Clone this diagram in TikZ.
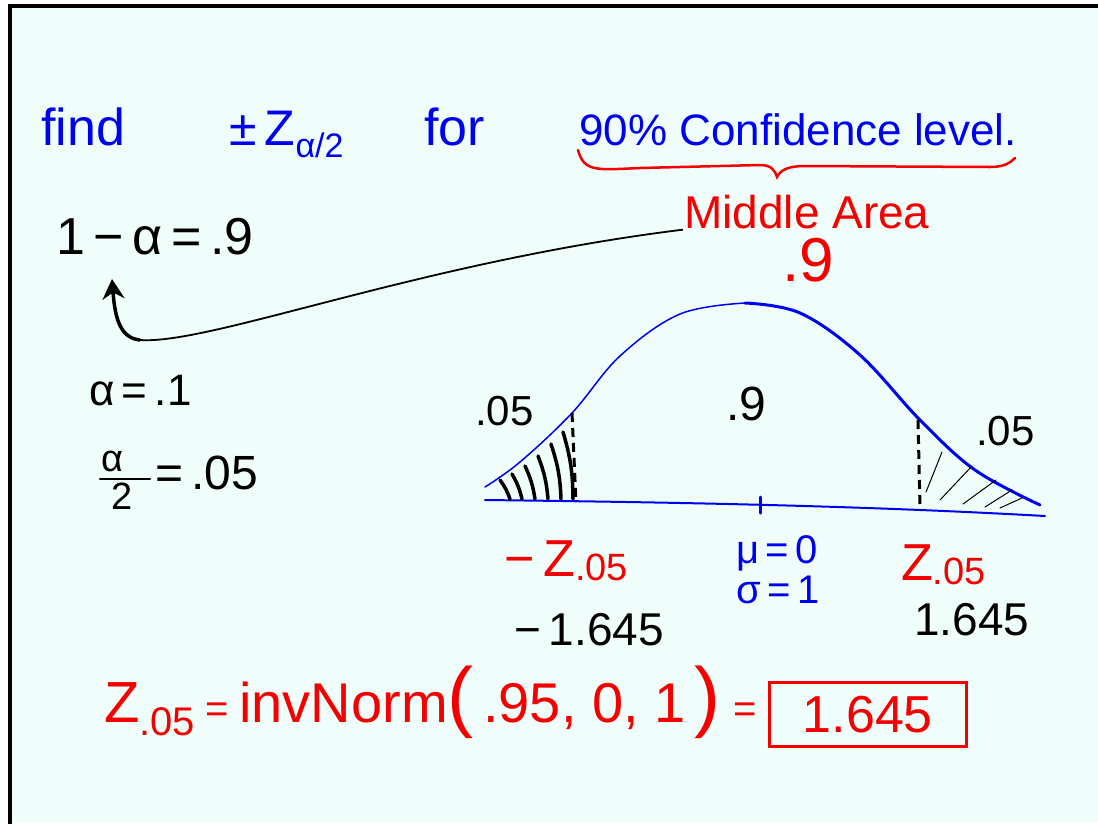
\documentclass[tikz,border=0pt]{standalone}
\usepackage{fontspec}
\setmainfont{Liberation Sans}
\usetikzlibrary{positioning, arrows.meta, calc}
\definecolor{boardbg}{HTML}{EFFEFA}
\definecolor{penblue}{HTML}{0000F0}
\definecolor{penred}{HTML}{F50000}
\newcommand\pen[1]{\fontsize{#1}{#1}\selectfont}

\begin{document}
\begin{tikzpicture}[x=1pt, y=-1pt,
  txt/.style={inner sep=1pt, anchor=base west},
  curve/.style={draw=penblue, line cap=round},
  hatchthick/.style={line width=3.5pt, line cap=round},
  hatchthin/.style={line width=1pt, line cap=round},
  cutline/.style={line width=3pt, dash pattern=on 9pt off 6pt}]
  \useasboundingbox (0,0) rectangle (1098,823);
  \fill[white] (0,0) rectangle (1098,823);
  \fill[boardbg] (10,6) rectangle (1098,823);
  \draw[line width=3.5pt] (10,830) -- (10,6) -- (1105,6);

  % title line
  \node[txt, penblue, font=\pen{52}] (find) at (40,145) {find};
  \node[txt, penblue, font=\pen{50}] (pmz) at (228,145) {±\,Z\raisebox{-12pt}{\pen{34}α/2}};
  \node[txt, penblue, font=\pen{52}] (for) at (423,145) {for};
  \node[txt, penblue, font=\pen{44}] (conf) at (578,145) {90\% Confidence level.};
  \draw[penred, line width=2.5pt, line cap=round]
    (578,150) .. controls (584,172) and (596,170) .. (640,168) -- (760,165)
    .. controls (771,165) and (775,170) .. (777,177)
    .. controls (781,169) and (790,166) .. (805,166) -- (990,167)
    .. controls (1004,167) and (1010,163) .. (1015,158);

  % middle area
  \node[txt, penred, font=\pen{46}] (mid) at (683,228) {Middle Area};
  \node[txt, penred, font=\pen{62}] (midval) at (781,281) {.9};

  % left column
  \node[txt, font=\pen{52}] (onealpha) at (55,254) {1\,−\,α\,=\,.9};
  \coordinate (tip) at (112,279);
  \draw[line width=1.8pt] (mid.south west) .. controls (420,262) and (210,345) .. (140,340);
  \draw[line width=3.5pt, -{Stealth[length=20pt, width=22pt]}]
    (140,340) .. controls (120,338) and (115,318) .. (tip);
  \node[txt, font=\pen{44}] (alpha) at (88,405) {α\,=\,.1};
  \node[txt, font=\pen{38}] (anum) at (100,471) {α};
  \node[txt, font=\pen{38}] (aden) at (110,509) {2};
  \draw[line width=2.5pt, line cap=round] (100,479) -- (150,479);
  \node[txt, font=\pen{48}] (half) at (154,489) {=\,.05};

  % normal curve
  \draw[curve, line width=1.5pt] plot[smooth, tension=0.6] coordinates
    {(485,487) (520,462) (572,413) (620,356) (680,314) (745,303)};
  \draw[curve, line width=3pt] plot[smooth, tension=0.6] coordinates
    {(745,303) (800,313) (860,355) (920,420) (975,470) (1040,505)};
  \draw[curve, line width=2pt] (485,500) .. controls (650,502) and (850,505) .. (1045,516);
  \draw[curve, line width=3pt] (760,497) -- (760,513);

  % cut lines and tails
  \draw[cutline] (572,413) -- (576,503);
  \draw[cutline] (918,420) -- (920,507);
  \foreach \xa/\ya in {500/480, 512/474, 525/466, 538/456, 551/444, 563/432}
    \draw[hatchthick] (\xa,\ya) to[bend left=8] (\xa+10,499);
  \foreach \xa/\ya/\xb/\yb in {926/492/942/452, 940/500/972/466, 963/504/996/480,
                               985/507/1012/490, 1000/508/1022/498}
    \draw[hatchthin] (\xa,\ya) -- (\xb,\yb);

  % areas
  \node[txt, font=\pen{42}] (lefta) at (474,425) {.05};
  \node[txt, font=\pen{48}] (centa) at (725,420) {.9};
  \node[txt, font=\pen{42}] (righta) at (975,445) {.05};

  % axis labels
  \node[txt, penred, font=\pen{52}] (negz) at (503,576) {−\,Z\raisebox{-4pt}{\pen{38}.05}};
  \node[txt, penblue, font=\pen{40}] (mu) at (735,563) {μ\,=\,0};
  \node[txt, penblue, font=\pen{40}] (sigma) at (735,603) {σ\,=\,1};
  \node[txt, penred, font=\pen{52}] (posz) at (900,580) {Z\raisebox{-4pt}{\pen{38}.05}};
  \node[txt, font=\pen{46}] (negv) at (513,645) {−\,1.645};
  \node[txt, font=\pen{46}] (posv) at (913,635) {1.645};

  % invNorm line
  \node[txt, penred, font=\pen{58}] (zinv) at (103,722) {Z\raisebox{-13pt}{\pen{40}.05}};
  \node[txt, penred, font=\pen{40}, base right=8pt of zinv] (eqa) {=};
  \node[txt, penred, font=\pen{56}, base right=8pt of eqa] (inv)
    {invNorm{\pen{78}(}\,.95, 0, 1\,{\pen{78})}};
  \node[txt, penred, font=\pen{40}, base right=10pt of inv] (eqb) {=};
  \node[penred, font=\pen{52}, draw=penred, line width=3pt, minimum width=197pt,
        minimum height=64pt, right=10pt of eqb.east, anchor=west, yshift=-2pt] (res) {1.645};
\end{tikzpicture}
\end{document}
